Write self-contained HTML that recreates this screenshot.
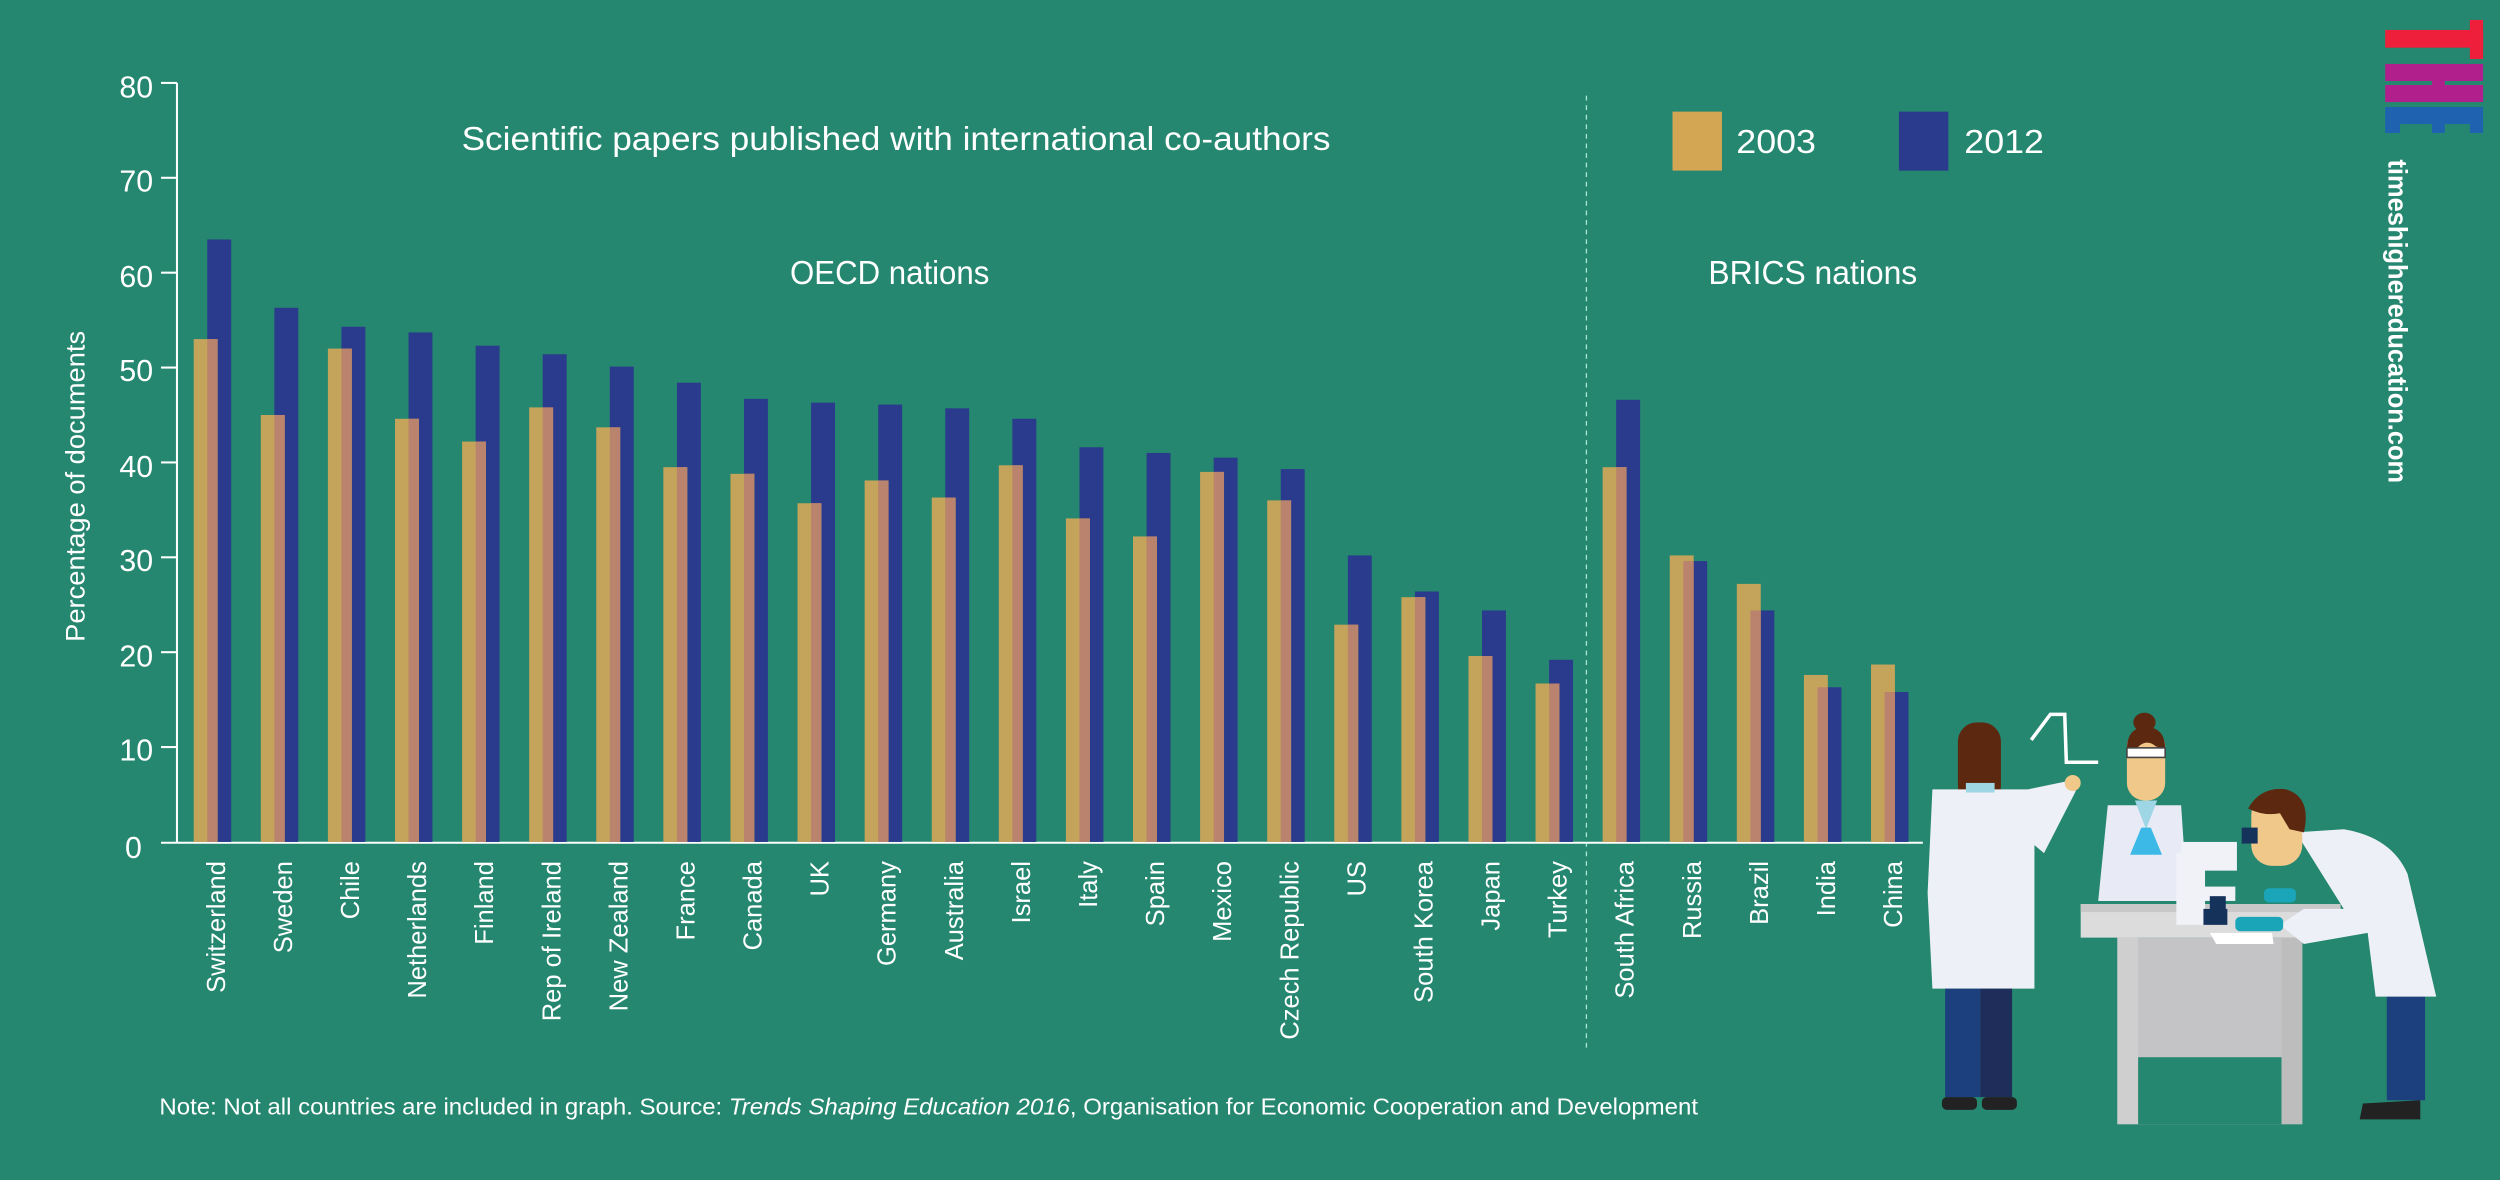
<!DOCTYPE html>
<html><head><meta charset="utf-8"><style>
html,body{margin:0;padding:0;background:#25876f;}
svg{display:block;}
text{font-family:"Liberation Sans Narrow","Liberation Sans",sans-serif;fill:#fff;}
</style></head><body>
<svg width="2500" height="1180" viewBox="0 0 1568 740" preserveAspectRatio="none" xmlns="http://www.w3.org/2000/svg">
<rect width="1568" height="740" fill="#25876f"/>
<line x1="111" y1="52" x2="111" y2="528.5" stroke="#fff" stroke-width="1.3"/>
<line x1="101" y1="528.5" x2="1206" y2="528.5" stroke="#fff" stroke-width="1.3"/>
<g stroke="#fff" stroke-width="1.3">
<line x1="101" y1="52" x2="111" y2="52"/><line x1="101" y1="111.5" x2="111" y2="111.5"/>
<line x1="101" y1="171" x2="111" y2="171"/><line x1="101" y1="230.5" x2="111" y2="230.5"/>
<line x1="101" y1="290" x2="111" y2="290"/><line x1="101" y1="349.5" x2="111" y2="349.5"/>
<line x1="101" y1="409" x2="111" y2="409"/><line x1="101" y1="468.5" x2="111" y2="468.5"/>
</g>
<g font-size="19" text-anchor="end">
<text x="96" y="61">80</text><text x="96" y="120">70</text><text x="96" y="180">60</text>
<text x="96" y="239">50</text><text x="96" y="299">40</text><text x="96" y="358">30</text>
<text x="96" y="418">20</text><text x="96" y="477">10</text><text x="89" y="538">0</text>
</g>
<text transform="translate(53,305) rotate(-90)" font-size="17" text-anchor="middle" textLength="195" lengthAdjust="spacingAndGlyphs">Percentage of documents</text>
<text x="562" y="94" font-size="21" text-anchor="middle" textLength="545" lengthAdjust="spacingAndGlyphs">Scientific papers published with international co-authors</text>
<text x="558" y="178" font-size="21" text-anchor="middle" textLength="125" lengthAdjust="spacingAndGlyphs">OECD nations</text>
<text x="1137" y="178" font-size="21" text-anchor="middle" textLength="131" lengthAdjust="spacingAndGlyphs">BRICS nations</text>
<line x1="995" y1="60" x2="995" y2="658" stroke="#cfe" stroke-width="0.8" stroke-dasharray="3,3" opacity="0.8"/>
<rect x="1049" y="70" width="31" height="37" fill="#d3a654"/>
<text x="1089" y="96" font-size="21" textLength="50" lengthAdjust="spacingAndGlyphs">2003</text>
<rect x="1191" y="70" width="31" height="37" fill="#2a3a8c"/>
<text x="1232" y="96" font-size="21" textLength="50" lengthAdjust="spacingAndGlyphs">2012</text>
<g id="bars"></g>
<g id="labels" font-size="16" text-anchor="end"></g>
<text x="100" y="699" font-size="14.5" textLength="965" lengthAdjust="spacingAndGlyphs">Note: Not all countries are included in graph.  Source: <tspan font-style="italic">Trends Shaping Education 2016</tspan>, Organisation for Economic Cooperation and Development</text>
<!-- THE logo -->
<rect x="1496" y="18.8" width="61.4" height="11.1" fill="#ee1f3a"/>
<rect x="1549.1" y="12.5" width="8.3" height="24.5" fill="#ee1f3a"/>
<rect x="1496" y="40.1" width="61.4" height="10.7" fill="#b01f8c"/>
<rect x="1496" y="53.3" width="61.4" height="10.7" fill="#b01f8c"/>
<rect x="1525.3" y="50.5" width="8.1" height="3" fill="#b01f8c"/>
<rect x="1496" y="67.1" width="61.4" height="10.7" fill="#1f63b0"/>
<rect x="1496" y="77.5" width="9.3" height="5.9" fill="#1f63b0"/>
<rect x="1525.3" y="77.5" width="8.1" height="5.9" fill="#1f63b0"/>
<rect x="1549.1" y="77.5" width="8.3" height="5.9" fill="#1f63b0"/>
<text transform="translate(1498,100) rotate(90)" font-size="17" font-weight="bold" textLength="203" lengthAdjust="spacingAndGlyphs">timeshighereducation.com</text>
<g>
<polyline points="1274,464 1286,448 1295,448 1296,478 1316,478" fill="none" stroke="#fff" stroke-width="2.2"/>
<ellipse cx="1345" cy="453" rx="7" ry="6" fill="#5c2810"/>
<rect x="1334" y="457" width="24" height="45" rx="11" fill="#f0c88a"/>
<path d="M1334,470 Q1334,456 1346,456 Q1358,456 1358,470 L1352,468 Q1345,462 1338,472 Z" fill="#5c2810"/>
<rect x="1334" y="469" width="24" height="6" fill="#fff" stroke="#444" stroke-width="1"/>
<path d="M1322,505 L1368,505 L1372,565 L1316,565 Z" fill="#e8ebf5"/>
<path d="M1339,502 L1346,520 L1353,502 Z" fill="#9fd6e5"/>
<path d="M1343,519 L1349,519 L1356,536 L1336,536 Z" fill="#3db9e8"/>
<rect x="1228" y="453" width="27" height="52" rx="12" fill="#5c2810"/>
<path d="M1212,495 L1272,495 L1296,490 L1302,496 L1282,535 L1276,530 L1276,620 L1212,620 L1209,560 Z" fill="#eef0f8"/>
<rect x="1233" y="491" width="18" height="6" fill="#9fd6e5"/>
<circle cx="1300" cy="491" r="5" fill="#f0c88a"/>
<rect x="1220" y="620" width="22" height="68" fill="#1c3f7d"/>
<rect x="1242" y="620" width="20" height="68" fill="#1e2d5a"/>
<rect x="1218" y="688" width="22" height="8" rx="3" fill="#222"/>
<rect x="1243" y="688" width="22" height="8" rx="3" fill="#222"/>
<rect x="1305" y="567" width="163" height="21" fill="#dcdcdc"/>
<rect x="1305" y="567" width="163" height="5" fill="#c8c8c8"/>
<rect x="1328" y="588" width="116" height="117" fill="#c4c4c6"/>
<rect x="1341" y="663" width="90" height="42" fill="#25876f"/>
<rect x="1328" y="588" width="13" height="117" fill="#cfcfd0"/>
<rect x="1431" y="588" width="13" height="117" fill="#bdbdbd"/>
<rect x="1365" y="535" width="18" height="45" fill="#f0f2f8"/>
<rect x="1368" y="528" width="35" height="18" fill="#f0f2f8"/>
<rect x="1382" y="570" width="15" height="10" fill="#15325a"/>
<rect x="1380" y="556" width="22" height="9" fill="#f0f2f8"/>
<rect x="1386" y="562" width="10" height="10" fill="#15325a"/>
<polygon points="1386,585 1425,585 1426,592 1390,592" fill="#fff"/>
<rect x="1497" y="610" width="24" height="80" fill="#1c3f7d"/>
<path d="M1482,692 L1518,690 L1518,702 L1480,702 Z" fill="#222"/>
<path d="M1440,522 L1470,520 Q1500,525 1510,548 L1528,625 L1490,625 L1485,585 L1445,592 L1430,580 L1445,570 L1470,570 Z" fill="#eef0f8"/>
<rect x="1412" y="498" width="32" height="45" rx="13" fill="#f0c88a"/>
<path d="M1410,507 Q1418,493 1434,495 Q1450,500 1445,522 L1436,520 L1430,510 Q1420,512 1410,507 Z" fill="#5c2810"/>
<rect x="1406" y="519" width="10" height="10" fill="#15325a"/>
<rect x="1420" y="557" width="20" height="9" rx="3" fill="#1aa5b8"/>
<rect x="1402" y="575" width="30" height="9" rx="3" fill="#1aa5b8"/>
</g>
<script>
var d=[["Switzerland",53,63.5],["Sweden",45,56.3],["Chile",52,54.3],["Netherlands",44.6,53.7],["Finland",42.2,52.3],["Rep of Ireland",45.8,51.4],["New Zealand",43.7,50.1],["France",39.5,48.4],["Canada",38.8,46.7],["UK",35.7,46.3],["Germany",38.1,46.1],["Australia",36.3,45.7],["Israel",39.7,44.6],["Italy",34.1,41.6],["Spain",32.2,41],["Mexico",39,40.5],["Czech Republic",36,39.3],["US",22.9,30.2],["South Korea",25.8,26.4],["Japan",19.6,24.4],["Turkey",16.7,19.2],["South Africa",39.5,46.6],["Russia",30.2,29.6],["Brazil",27.2,24.4],["India",17.6,16.3],["China",18.7,15.8]];
var ns="http://www.w3.org/2000/svg",b=document.getElementById("bars"),l=document.getElementById("labels");
function r(x,y,w,h,c){var e=document.createElementNS(ns,"rect");e.setAttribute("x",x);e.setAttribute("y",y);e.setAttribute("width",w);e.setAttribute("height",h);e.setAttribute("fill",c);b.appendChild(e);}
var k=5.95,y0=528;
d.forEach(function(c,i){var x=121.5+i*42.08;
r(x+8.5,y0-c[2]*k,15,c[2]*k,"#2a3a8c");
r(x,y0-c[1]*k,15,c[1]*k,"#c4a35a");
var m=Math.min(c[1],c[2]);r(x+8.5,y0-m*k,6.5,m*k,"#b9836d");
var t=document.createElementNS(ns,"text");t.setAttribute("transform","translate("+(x+19.5)+",540) rotate(-90)");t.textContent=c[0];l.appendChild(t);});
</script>
</svg>
</body></html>
